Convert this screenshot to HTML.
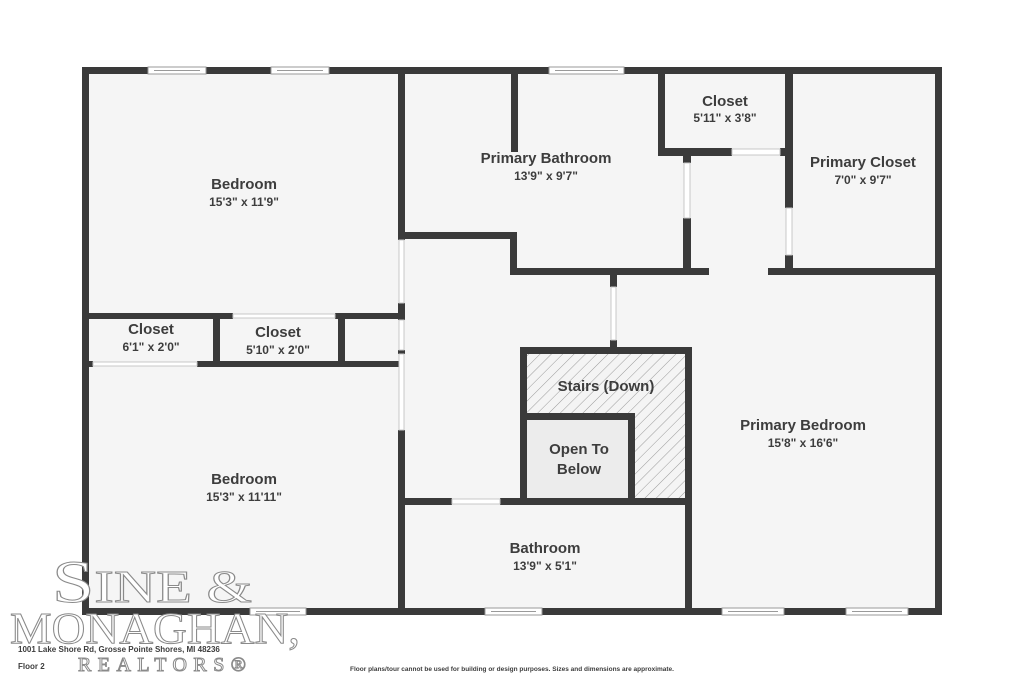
<!DOCTYPE html>
<html><head><meta charset="utf-8"><style>
html,body{margin:0;padding:0;background:#fff;}
svg{display:block;}
.t{font-family:"Liberation Sans","DejaVu Sans",sans-serif;font-weight:bold;fill:#3d3d3d;text-anchor:middle;}
.n{font-size:15px;}
.d{font-size:12px;}
.logo{font-family:"Liberation Serif",serif;fill:#fff;stroke:#8a8a8a;stroke-width:1;}
</style></head><body>
<svg width="1024" height="683" viewBox="0 0 1024 683" xmlns="http://www.w3.org/2000/svg">
<defs>
<pattern id="h" width="8" height="8" patternUnits="userSpaceOnUse" patternTransform="rotate(45)">
<rect width="8" height="8" fill="#f4f4f4"/><line x1="0" y1="0" x2="0" y2="8" stroke="#9a9a9a" stroke-width="1"/>
</pattern>
</defs>
<rect x="0" y="0" width="1024" height="683" fill="#fff"/>
<rect x="85" y="70" width="853" height="541" fill="#f5f5f5"/>
<rect x="522" y="350" width="168" height="150" fill="url(#h)"/>
<rect x="525" y="415" width="107" height="85" fill="#ececec"/>
<g fill="#3a3a3a">
<rect x="82" y="67" width="860" height="7"/>
<rect x="82" y="608" width="860" height="7"/>
<rect x="82" y="67" width="7" height="548"/>
<rect x="935" y="67" width="7" height="548"/>
<rect x="398" y="70" width="7" height="170"/>
<rect x="398" y="303" width="7" height="17"/>
<rect x="398" y="350" width="7" height="4"/>
<rect x="398" y="430" width="7" height="181"/>
<rect x="85" y="313" width="148" height="6"/>
<rect x="335" y="313" width="67" height="6"/>
<rect x="85" y="361" width="8" height="6"/>
<rect x="197" y="361" width="205" height="6"/>
<rect x="213" y="313" width="7" height="54"/>
<rect x="338" y="313" width="7" height="54"/>
<rect x="511" y="70" width="7" height="82"/>
<rect x="402" y="232" width="115" height="7"/>
<rect x="510" y="232" width="7" height="43"/>
<rect x="510" y="268" width="199" height="7"/>
<rect x="683" y="155" width="8" height="8"/>
<rect x="683" y="218" width="8" height="55"/>
<rect x="658" y="70" width="7" height="86"/>
<rect x="658" y="148" width="74" height="8"/>
<rect x="780" y="148" width="12" height="8"/>
<rect x="785" y="70" width="8" height="138"/>
<rect x="785" y="255" width="8" height="20"/>
<rect x="768" y="268" width="170" height="7"/>
<rect x="610" y="270" width="7" height="17"/>
<rect x="610" y="340" width="7" height="10"/>
<rect x="520" y="347" width="172" height="7"/>
<rect x="520" y="347" width="7" height="157"/>
<rect x="685" y="347" width="7" height="264"/>
<rect x="525" y="413" width="110" height="7"/>
<rect x="628" y="413" width="7" height="90"/>
<rect x="402" y="498" width="50" height="7"/>
<rect x="500" y="498" width="190" height="7"/>
</g>
<g fill="#fff" stroke="#c8c8c8" stroke-width="1">
<rect x="399" y="240" width="5" height="63"/>
<rect x="399" y="320" width="5" height="30"/>
<rect x="399" y="354" width="5" height="76"/>
<rect x="233" y="314" width="102" height="4"/>
<rect x="93" y="362" width="104" height="4"/>
<rect x="684" y="163" width="6" height="55"/>
<rect x="732" y="149" width="48" height="6"/>
<rect x="786" y="208" width="6" height="47"/>
<rect x="611" y="287" width="5" height="53"/>
<rect x="452" y="499" width="48" height="5"/>
</g>
<g fill="#fff" stroke="#9a9a9a" stroke-width="1">
<rect x="148" y="67" width="58" height="7"/><line x1="154" y1="70.5" x2="200" y2="70.5"/>
<rect x="271" y="67" width="58" height="7"/><line x1="277" y1="70.5" x2="323" y2="70.5"/>
<rect x="549" y="67" width="75" height="7"/><line x1="555" y1="70.5" x2="618" y2="70.5"/>
<rect x="250" y="608" width="56" height="7"/><line x1="256" y1="611.5" x2="300" y2="611.5"/>
<rect x="485" y="608" width="57" height="7"/><line x1="491" y1="611.5" x2="536" y2="611.5"/>
<rect x="722" y="608" width="62" height="7"/><line x1="728" y1="611.5" x2="778" y2="611.5"/>
<rect x="846" y="608" width="62" height="7"/><line x1="852" y1="611.5" x2="902" y2="611.5"/>
</g>
<text class="t n" x="244" y="189">Bedroom</text><text class="t d" x="244" y="206">15'3" x 11'9"</text>
<text class="t n" x="546" y="163">Primary Bathroom</text><text class="t d" x="546" y="180">13'9" x 9'7"</text>
<text class="t n" x="725" y="106">Closet</text><text class="t d" x="725" y="122">5'11" x 3'8"</text>
<text class="t n" x="863" y="167">Primary Closet</text><text class="t d" x="863" y="184">7'0" x 9'7"</text>
<text class="t n" x="151" y="334">Closet</text><text class="t d" x="151" y="351">6'1" x 2'0"</text>
<text class="t n" x="278" y="337">Closet</text><text class="t d" x="278" y="354">5'10" x 2'0"</text>
<text class="t n" x="606" y="391">Stairs (Down)</text>
<text class="t n" x="579" y="454">Open To</text><text class="t n" x="579" y="474">Below</text>
<text class="t n" x="803" y="430">Primary Bedroom</text><text class="t d" x="803" y="447">15'8" x 16'6"</text>
<text class="t n" x="244" y="484">Bedroom</text><text class="t d" x="244" y="501">15'3" x 11'11"</text>
<text class="t n" x="545" y="553">Bathroom</text><text class="t d" x="545" y="570">13'9" x 5'1"</text>
<text class="logo" x="52" y="602" font-size="60" textLength="200" lengthAdjust="spacingAndGlyphs">S<tspan font-size="46">INE &amp;</tspan></text>
<text class="logo" x="10" y="643" font-size="44" textLength="290" lengthAdjust="spacingAndGlyphs">MONAGHAN,</text>
<text class="logo" x="78" y="671" font-size="20" textLength="168" lengthAdjust="spacing">REALTORS®</text>
<text class="t" x="18" y="652" font-size="8" style="text-anchor:start">1001 Lake Shore Rd, Grosse Pointe Shores, MI 48236</text>
<text class="t" x="18" y="669" font-size="8" style="text-anchor:start">Floor 2</text>
<text class="t" x="512" y="671" font-size="6.5">Floor plans/tour cannot be used for building or design purposes. Sizes and dimensions are approximate.</text>
</svg>
</body></html>
